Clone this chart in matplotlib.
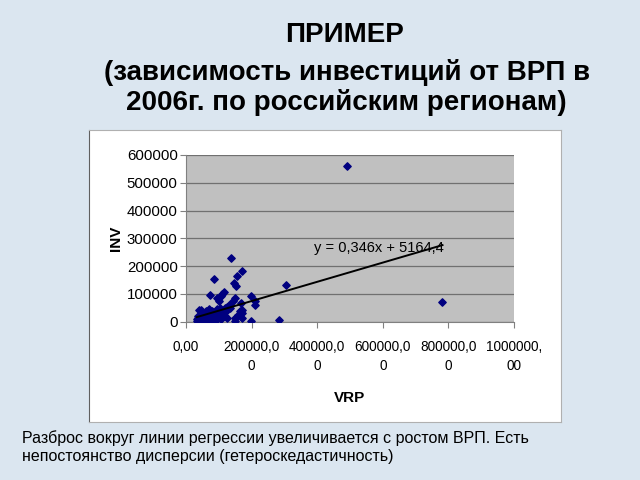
import matplotlib.pyplot as plt
import numpy as np

plt.rcParams['font.family'] = ['Liberation Sans', 'DejaVu Sans']

# данные (тыс. руб.), оценены по рисунку
vrp = [490000, 782000, 305000, 285000, 198000, 198000, 210000, 210000,
       137000, 172000, 155000, 86000, 147000, 152000, 72000, 116000, 106000, 110000,
       149000, 142000, 167000, 172000, 149000, 149000, 172000, 170000, 40000, 38000,
       165000, 160000, 130000, 125000, 135000, 100000, 95000, 120000, 95000,
       33000, 35000, 37000, 40000, 42000, 45000, 47000, 50000, 52000, 55000, 57000,
       60000, 62000, 65000, 67000, 70000, 72000, 75000, 77000, 80000, 82000, 85000,
       88000, 90000, 92000, 95000, 98000, 100000, 103000, 105000, 108000, 110000,
       113000, 115000, 118000, 120000, 125000, 128000, 60000, 50000, 45000, 70000,
       80000, 65000]
inv = [560000, 72000, 133000, 6000, 3000, 94000, 60000, 75000,
       230000, 182000, 163000, 154000, 139000, 130000, 95000, 107000, 91000, 100000,
       85000, 76000, 67000, 42000, 3000, 12000, 12000, 30000, 43000, 20000,
       40000, 25000, 60000, 52000, 50000, 75000, 85000, 20000, 28000,
       3000, 8000, 12000, 5000, 15000, 10000, 20000, 6000, 18000, 12000, 25000,
       8000, 30000, 15000, 22000, 35000, 10000, 28000, 18000, 40000, 12000, 25000,
       32000, 5000, 20000, 45000, 15000, 35000, 25000, 48000, 10000, 30000,
       40000, 22000, 50000, 35000, 15000, 45000, 40000, 30000, 42000, 45000,
       3000, 2000]

slope = 0.346
intercept = 5164.4

xticks = [0, 200000, 400000, 600000, 800000, 1000000]
xlabels = ['0,00', '200000,0\n0', '400000,0\n0', '600000,0\n0', '800000,0\n0', '1000000,\n00']
yticks = [0, 100000, 200000, 300000, 400000, 500000, 600000]

fig = plt.figure(figsize=(6.4, 4.8), dpi=100)
fig.patch.set_facecolor('#dbe6f0')

# белая подложка диаграммы
box = fig.add_axes([89/640, 1-422/480, 472/640, 292/480])
box.set_xticks([]); box.set_yticks([])
box.set_facecolor('white')
for s in box.spines.values():
    s.set_color('#b0b0b0')
    s.set_linewidth(0.8)
box.spines['left'].set_color('#606060')

ax = fig.add_axes([186/640, 1-321.7/480, 328/640, 166.7/480])
ax.set_facecolor('#c0c0c0')
ax.set_xlim(0, 1000000)
ax.set_ylim(0, 600000)
ax.set_yticks(yticks)
ax.set_yticklabels([str(v) for v in yticks])
ax.set_xticks(xticks)
ax.set_xticklabels(xlabels, linespacing=1.5)
ax.grid(axis='y', color='#707070', lw=0.9)
ax.set_axisbelow(True)
for s in ['top', 'right']:
    ax.spines[s].set_visible(False)
for s in ['left', 'bottom']:
    ax.spines[s].set_color('#808080')
ax.tick_params(colors='#808080', labelcolor='black', length=4)
ax.tick_params(axis='x', pad=9, labelsize=9.8)
ax.tick_params(axis='y', pad=2, labelsize=10.8)

ax.scatter(vrp, inv, marker='D', s=14, color='#000080', zorder=3)
xl = np.array([min(vrp), max(vrp)])
ax.plot(xl, slope * xl + intercept, color='black', lw=1.4, zorder=4)
ax.text(390000, 267000, 'y = 0,346x + 5164,4', fontsize=10.5, ha='left', va='center', zorder=5)

ax.set_xlabel('VRP', fontsize=11, fontweight='bold', labelpad=13)
ax.set_ylabel('INV', fontsize=11, fontweight='bold', labelpad=3)

fig.text(345/640, 1-35/480, 'ПРИМЕР', ha='center', va='center', fontsize=20, fontweight='bold')
fig.text(347/640, 1-72/480, '(зависимость инвестиций от ВРП в', ha='center', va='center',
         fontsize=20, fontweight='bold')
fig.text(346/640, 1-103/480, '2006г. по российским регионам)', ha='center', va='center',
         fontsize=20, fontweight='bold')

fig.text(22/640, 1-438/480, 'Разброс вокруг линии регрессии увеличивается с ростом ВРП. Есть',
         ha='left', va='center', fontsize=11.5)
fig.text(22/640, 1-457/480, 'непостоянство дисперсии (гетероскедастичность)',
         ha='left', va='center', fontsize=11.5)

fig.savefig('out.png', dpi=100, facecolor=fig.get_facecolor())
